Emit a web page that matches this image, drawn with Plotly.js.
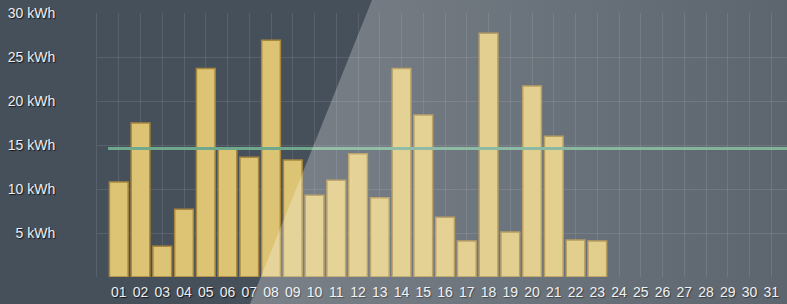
<!DOCTYPE html>
<html>
<head>
<meta charset="utf-8">
<script src="https://cdn.plot.ly/plotly-3.0.1.min.js"></script>
<style>
  html, body { margin: 0; padding: 0; background: #46505b; }
  #wrap { position: relative; width: 787px; height: 304px; background: #46505b; overflow: hidden; }
  #chart { position: absolute; left: 0; top: 0; width: 787px; height: 304px; }
  #gloss { position: absolute; left: 0; top: 0; width: 787px; height: 304px; pointer-events: none;
    background: linear-gradient(90deg, rgba(255,255,255,0.28) 260px, rgba(255,255,255,0.12) 787px);
    clip-path: polygon(372px 0, 787px 0, 787px 304px, 250px 304px); }
</style>
</head>
<body>
<div id="wrap">
  <div id="chart"></div>
  <div id="gloss"></div>
</div>
<script>
// Days of the month (x tick labels)
const days = ['01','02','03','04','05','06','07','08','09','10','11','12','13','14','15','16',
              '17','18','19','20','21','22','23','24','25','26','27','28','29','30','31'];
// Daily consumption in kWh (days 01..23)
const kwh = [10.8, 17.5, 3.5, 7.7, 23.7, 14.6, 13.6, 26.9, 13.3, 9.3, 11.0, 14.0,
             9.0, 23.7, 18.4, 6.8, 4.1, 27.7, 5.1, 21.7, 16.0, 4.2, 4.1];
// Target / reference level (green line)
const target = 14.6;
// Y tick values and labels
const yTickVals = [5, 10, 15, 20, 25, 30];
const yTickText = ['5 kWh', '10 kWh', '15 kWh', '20 kWh', '25 kWh', '30 kWh'];

const dayNums = days.map(Number);
const shownDays = dayNums.slice(0, kwh.length);

const labelFont = {
  family: '"Liberation Sans", Arial, sans-serif',
  size: 14,
  color: '#eceef0',
  shadow: '1px 1px 1px rgba(0,0,0,0.7)'
};

const traces = [{
  type: 'bar',
  x: shownDays,
  y: kwh,
  width: 0.86,
  marker: { color: '#dcc474', line: { color: '#a8873c', width: 1.5 } },
  hoverinfo: 'x+y'
}];

const layout = {
  width: 787, height: 304,
  margin: { l: 97, r: 0, t: 13, b: 27, pad: 0 },
  paper_bgcolor: 'rgba(0,0,0,0)',
  plot_bgcolor: 'rgba(0,0,0,0)',
  showlegend: false,
  bargap: 0,
  xaxis: {
    type: 'linear',
    range: [0, 31.72],
    tickmode: 'array',
    tickvals: dayNums,
    ticktext: days,
    showgrid: true,
    gridcolor: 'rgba(255,255,255,0.10)',
    gridwidth: 1,
    zeroline: false,
    showline: false,
    ticks: '',
    ticklabelstandoff: 5,
    tickfont: labelFont,
    fixedrange: true
  },
  yaxis: {
    range: [0, 30],
    tickmode: 'array',
    tickvals: yTickVals,
    ticktext: yTickText,
    showgrid: true,
    gridcolor: 'rgba(255,255,255,0.10)',
    gridwidth: 1,
    zeroline: false,
    showline: true,
    linecolor: 'rgba(255,255,255,0.10)',
    linewidth: 1,
    ticks: '',
    ticklabelstandoff: 38,
    tickfont: labelFont,
    fixedrange: true
  },
  shapes: [{
    type: 'line', xref: 'paper', yref: 'y',
    x0: 0.016, x1: 1, y0: target, y1: target,
    line: { color: '#6fa88a', width: 3 },
    layer: 'above'
  }]
};

Plotly.newPlot('chart', traces, layout, { displayModeBar: false, staticPlot: true });
</script>
</body>
</html>
